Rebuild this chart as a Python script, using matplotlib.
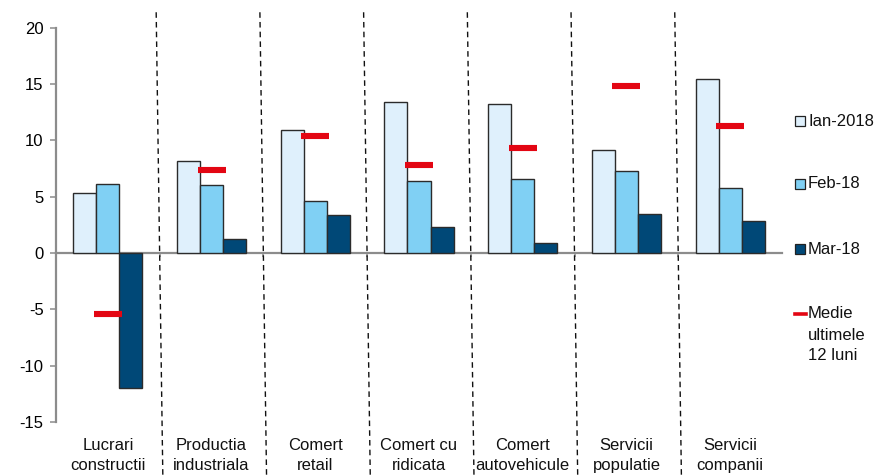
import matplotlib.pyplot as plt
import numpy as np
from matplotlib.patches import Rectangle
from matplotlib.lines import Line2D

plt.rcParams['font.family'] = ['Liberation Sans', 'DejaVu Sans']
plt.rcParams['axes.unicode_minus'] = False

categories = ['Lucrari\nconstructii', 'Productia\nindustriala', 'Comert\nretail',
              'Comert cu\nridicata', 'Comert\nautovehicule', 'Servicii\npopulatie',
              'Servicii\ncompanii']
ian_2018 = [5.3, 8.2, 10.9, 13.4, 13.2, 9.2, 15.5]
feb_18 = [6.1, 6.0, 4.6, 6.4, 6.6, 7.3, 5.8]
mar_18 = [-12.0, 1.2, 3.4, 2.3, 0.9, 3.5, 2.8]
medie_12_luni = [-5.4, 7.4, 10.4, 7.8, 9.3, 14.8, 11.3]

series_labels = ['Ian-2018', 'Feb-18', 'Mar-18']
medie_label = ['Medie', 'ultimele', '12 luni']
colors = ['#dff0fc', '#80d0f4', '#004877']
red = '#e30613'
gray = '#8c8c8c'
fs = 12

fig = plt.figure(figsize=(8.82, 4.76), dpi=100)
ax = fig.add_axes([56 / 882, 1 - 421.75 / 476, (782 - 56) / 882, (421.75 - 28) / 476])

x = np.arange(len(categories))
w = 0.222
for k, vals in enumerate([ian_2018, feb_18, mar_18]):
    ax.bar(x + (k - 1) * w, vals, width=w, color=colors[k],
           edgecolor='#2b2b2b', linewidth=1.0, zorder=3)

# average of the last 12 months as short red dashes
ax.hlines(medie_12_luni, x - 0.135, x + 0.135, colors=red, linewidth=4.4, zorder=4)

ax.set_xlim(-0.5, len(categories) - 0.5)
ax.set_ylim(-15, 20)
ax.set_yticks(np.arange(-15, 21, 5))
ax.tick_params(axis='y', direction='out', length=4, color=gray, width=1.1,
               labelsize=fs, pad=5)
ax.set_xticks([])
ax.set_xticks(np.arange(0.5, len(categories) - 0.5), minor=True)
ax.tick_params(axis='x', which='minor', direction='out', length=3, color=gray,
               width=1.1, labelbottom=False)

for side in ['top', 'right']:
    ax.spines[side].set_visible(False)
ax.spines['bottom'].set_position(('data', 0))
for side in ['left', 'bottom']:
    ax.spines[side].set_color(gray)
    ax.spines[side].set_linewidth(1.6)

# category names under the plot
for i, name in enumerate(categories):
    ax.text(i, -0.085, name, transform=ax.get_xaxis_transform(), ha='center',
            va='center', fontsize=fs, linespacing=1.45, color='#111111')

# dashed separators between categories
for b in np.arange(0.5, len(categories) - 0.5):
    ax.plot([b - 0.034, b + 0.03], [21.4, -19.8], color='#111111', linewidth=1.0,
            linestyle=(0, (4, 3)), clip_on=False, zorder=2)

# legend on the right
lx, tx = 795 / 882, 808 / 882
for k, (lab, yc) in enumerate(zip(series_labels, [121, 184, 249])):
    fy = 1 - yc / 476
    fig.add_artist(Rectangle((lx, fy - 5 / 476), 10 / 882, 10 / 476,
                             facecolor=colors[k], edgecolor='#222222',
                             linewidth=0.9, transform=fig.transFigure))
    fig.text(tx, fy, lab, fontsize=fs, va='center', ha='left', color='#111111')

fy = 1 - 314 / 476
fig.add_artist(Line2D([lx, 806 / 882], [fy, fy], color=red, linewidth=2.6,
                      transform=fig.transFigure))
for j, (line, yc) in enumerate(zip(medie_label, [314, 335, 356])):
    fig.text(tx, 1 - yc / 476, line, fontsize=fs, va='center', ha='left',
             color='#111111')

fig.savefig('out.png', dpi=100)
